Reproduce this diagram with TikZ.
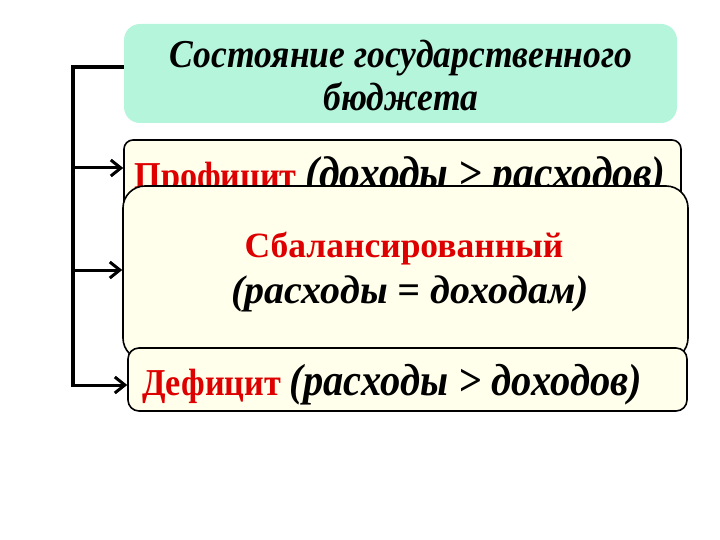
\documentclass[tikz,border=0pt]{standalone}
\usepackage{fontspec}
\setmainfont{Liberation Serif}
\newfontfamily\condserif[FakeStretch=0.9]{Liberation Serif}
\usetikzlibrary{arrows.meta}
\definecolor{mint}{RGB}{181,245,220}
\definecolor{cream}{RGB}{255,255,236}
\definecolor{redtxt}{RGB}{222,0,0}
\tikzset{
  box/.style={draw=black, line width=1.6pt, fill=cream, inner sep=0pt},
  bracket/.style={line width=3.5pt},
  arr/.style={line width=3pt, -{Straight Barb[length=10pt,width=16pt,line width=3pt]}},
  txt/.style={inner sep=0pt, anchor=base},
}
\begin{document}
\begin{tikzpicture}[x=1pt,y=-1pt]
\useasboundingbox (0,0) rectangle (720,540);
% top box
\node[fill=mint, rounded corners=16pt, minimum width=553pt, minimum height=99pt, inner sep=0pt] (top) at (400.5,73.5) {};
\node[txt, font=\condserif\fontsize{39.5}{42}\selectfont\bfseries\itshape] (toptxt1) at (401,68) {Состояние государственного};
\node[txt, font=\condserif\fontsize{39.5}{42}\selectfont\bfseries\itshape] (toptxt2) at (401,111) {бюджета};
% profit box
\node[box, rounded corners=9pt, minimum width=557pt, minimum height=72pt] (prof) at (402.5,176) {};
\node[txt, font=\condserif\bfseries] (proftxt) at (400,189) {\fontsize{38}{40}\selectfont\textcolor{redtxt}{Профицит} \fontsize{46}{48}\selectfont\itshape(доходы > расходов)};
% balanced box
\node[box, rounded corners=22pt, minimum width=565pt, minimum height=174pt] (bal) at (405.5,273) {};
\node[txt, font=\fontsize{35.5}{38}\selectfont\bfseries, text=redtxt] (baltxt1) at (404,257) {Сбалансированный};
\node[txt, font=\fontsize{40}{44}\selectfont\bfseries\itshape] (baltxt2) at (410,303) {(расходы = доходам)};
% deficit box
\node[box, rounded corners=11pt, minimum width=559pt, minimum height=63pt] (def) at (407.5,379.5) {};
\node[txt, font=\condserif\bfseries] (deftxt) at (392,395) {\fontsize{38}{40}\selectfont\textcolor{redtxt}{Дефицит} \fontsize{45}{47}\selectfont\itshape(расходы > доходов)};
% connectors
\coordinate (c1) at (73,67);
\coordinate (c2) at (73,387);
\draw[bracket] (top.west |- c1) -- (c1) -- (c2);
\draw[arr] (c1 |- 0,168) -- (prof.west |- 0,168);
\draw[arr] (c1 |- 0,270) -- (bal.west |- 0,270);
\draw[arr] (c1 |- 0,385) -- (def.west |- 0,385);
\end{tikzpicture}
\end{document}
